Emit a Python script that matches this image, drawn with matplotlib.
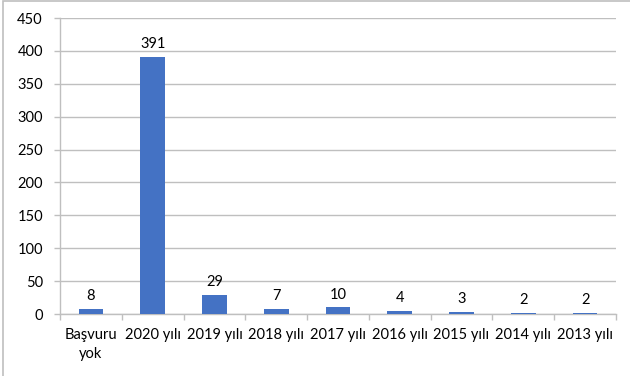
import matplotlib
matplotlib.use('Agg')
from matplotlib import pyplot as plt
from matplotlib.patches import Rectangle

categories = ['Başvuru\nyok', '2020 yılı', '2019 yılı', '2018 yılı', '2017 yılı',
              '2016 yılı', '2015 yılı', '2014 yılı', '2013 yılı']
values = [8, 391, 29, 7, 10, 4, 3, 2, 2]
y_ticks = [0, 50, 100, 150, 200, 250, 300, 350, 400, 450]

plt.rcParams['font.family'] = ['Lato', 'DejaVu Sans']
W, H = 630, 376
fig = plt.figure(figsize=(W / 100, H / 100), dpi=100)
ax = fig.add_axes([60 / W, 1 - 314 / H, 556 / W, (314 - 18) / H])

# chart frame (only left and top edges visible)
fig.patches.append(Rectangle((3 / W, -0.1), 1.2, 1.1 - 1 / H, transform=fig.transFigure,
                             fill=False, edgecolor='#bfbfbf', linewidth=1.2))

x = list(range(len(categories)))
bars = ax.bar(x, values, width=0.4, color='#4472c4', zorder=3)
for xi, v in zip(x, values):
    ax.text(xi, v + 9, str(v), ha='center', va='bottom', fontsize=10.5, color='#000000')

ax.set_xlim(-0.5, len(categories) - 0.5)
ax.set_ylim(0, 450)
ax.set_yticks(y_ticks)
ax.yaxis.grid(True, color='#bfbfbf', linewidth=1)
ax.set_axisbelow(True)

ax.set_xticks([i + 0.5 for i in range(-1, len(categories))], minor=False)
ax.set_xticklabels([])
ax.set_xticks(x, minor=True)
ax.set_xticklabels(categories, minor=True, fontsize=10.5, linespacing=1.45)
ax.tick_params(axis='x', which='minor', length=0, pad=10)
ax.tick_params(axis='x', which='major', length=4.3, color='#bfbfbf', width=1)
ax.tick_params(axis='y', length=4.3, color='#bfbfbf', width=1, labelsize=10.5, pad=8)

for side in ['top', 'right']:
    ax.spines[side].set_visible(False)
for side in ['left', 'bottom']:
    ax.spines[side].set_color('#bfbfbf')
    ax.spines[side].set_linewidth(1)

fig.savefig('out.png', dpi=100)
